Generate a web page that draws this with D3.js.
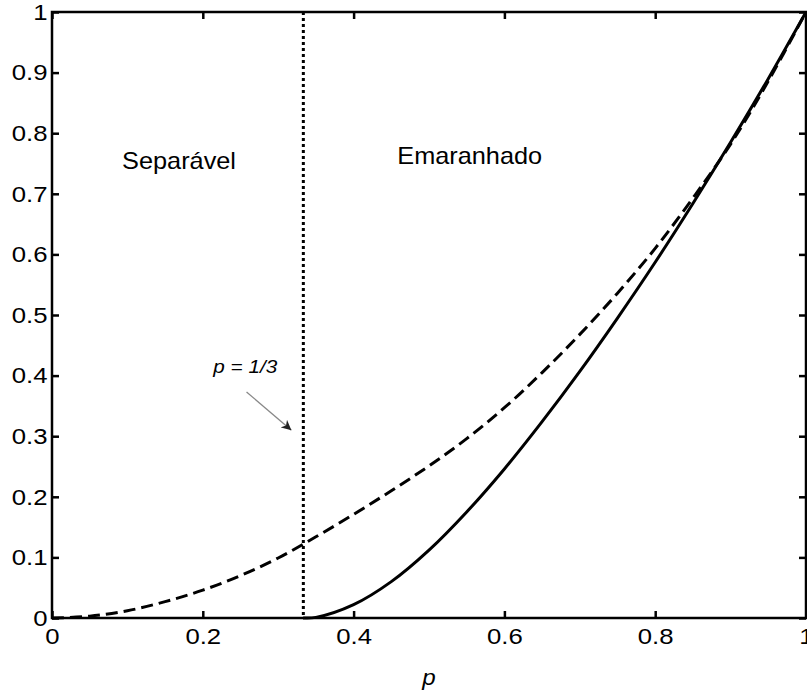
<!DOCTYPE html>
<html>
<head>
  <meta charset="utf-8">
  <title>Separável / Emaranhado</title>
  <style>
  body { margin: 0; background: #fff; overflow: hidden; }
  text { font-family: "Liberation Sans", Arial, sans-serif; fill: #000; }
  .tick line { stroke: #000; stroke-width: 2.5px; }
  .frame { fill: none; stroke: #000; stroke-width: 2.5px; }
  .line { fill: none; stroke: #000; stroke-width: 3px; }
  </style>
</head>
<body>
  <div id="chart"></div>
  <script src="https://cdn.jsdelivr.net/npm/d3@7"></script>
  <script>
  // values
  var pDashed = [0, 0.05, 0.1, 0.15, 0.2, 0.25, 0.3, 0.35, 0.4, 0.45, 0.5, 0.55, 0.6, 0.65, 0.7, 0.75, 0.8, 0.85, 0.9, 0.95, 1];
  var dashedVals = [0, 0.003, 0.012, 0.027, 0.046, 0.070, 0.099, 0.134, 0.171, 0.210, 0.251, 0.296, 0.347, 0.405, 0.468, 0.536, 0.610, 0.693, 0.782, 0.886, 1];
  var pSolid = [0.333, 0.35, 0.4, 0.45, 0.5, 0.55, 0.6, 0.65, 0.7, 0.75, 0.8, 0.85, 0.9, 0.95, 1];
  var solidVals = [0, 0.001, 0.022, 0.060, 0.112, 0.175, 0.246, 0.324, 0.407, 0.495, 0.587, 0.684, 0.785, 0.890, 1];
  var threshold = 1 / 3;

  var xTicks = [0, 0.2, 0.4, 0.6, 0.8, 1];
  var xTickLabels = ["0", "0.2", "0.4", "0.6", "0.8", "1"];
  var yTicks = [0, 0.1, 0.2, 0.3, 0.4, 0.5, 0.6, 0.7, 0.8, 0.9, 1];
  var yTickLabels = ["0", "0.1", "0.2", "0.3", "0.4", "0.5", "0.6", "0.7", "0.8", "0.9", "1"];

  // annotations in data units
  var regionLabels = [
    {text: "Separável", p: 0.093, v: 0.741},
    {text: "Emaranhado", p: 0.458, v: 0.750}
  ];
  var arrowNote = {text: "p = 1/3", p: 0.214, v: 0.404, from: [0.258, 0.373], to: [0.3175, 0.310]};

  var W = 807, H = 698;
  var mLeft = 52, mTop = 12, mRight = 806, mBottom = 618;
  var stretch = 1.1; // glyphs in the picture are a bit wide

  var x = d3.scaleLinear().domain([0, 1]).range([mLeft, mRight]);
  var y = d3.scaleLinear().domain([0, 1]).range([mBottom, mTop]);

  var svg = d3.select("#chart").append("svg")
    .attr("width", W)
    .attr("height", H);

  svg.append("defs").append("marker")
    .attr("id", "head")
    .attr("viewBox", "0 0 10 10")
    .attr("refX", 10).attr("refY", 5)
    .attr("markerWidth", 10).attr("markerHeight", 10)
    .attr("markerUnits", "userSpaceOnUse")
    .attr("orient", "auto")
    .append("path")
    .attr("d", "M0,0 L10,5 L0,10 L3,5 Z")
    .attr("fill", "#222");

  var line = d3.line()
    .x(function(d) { return x(d[0]); })
    .y(function(d) { return y(d[1]); })
    .curve(d3.curveCatmullRom.alpha(0.5));

  //threshold line p = 1/3
  svg.append("line")
    .attr("x1", x(threshold)).attr("x2", x(threshold))
    .attr("y1", y(1)).attr("y2", y(0))
    .attr("stroke", "#000")
    .attr("stroke-width", 3)
    .attr("stroke-dasharray", "3,3");

  //dashed curve
  svg.append("path")
    .datum(d3.zip(pDashed, dashedVals))
    .attr("class", "line")
    .attr("stroke-dasharray", "12,6")
    .attr("d", line);

  //solid curve
  svg.append("path")
    .datum(d3.zip(pSolid, solidVals))
    .attr("class", "line")
    .attr("d", line);

  //axes, ticks pointing in
  svg.append("g")
    .attr("transform", "translate(0," + mBottom + ")")
    .call(d3.axisBottom(x).tickValues(xTicks)
      .tickFormat(function(d, i) { return xTickLabels[i]; })
      .tickSizeInner(-7).tickSizeOuter(0).tickPadding(10));

  svg.append("g")
    .attr("transform", "translate(" + mLeft + ",0)")
    .call(d3.axisLeft(y).tickValues(yTicks)
      .tickFormat(function(d, i) { return yTickLabels[i]; })
      .tickSizeInner(-7).tickSizeOuter(0).tickPadding(4));

  svg.append("g")
    .attr("transform", "translate(0," + mTop + ")")
    .call(d3.axisTop(x).tickValues(xTicks).tickFormat("").tickSizeInner(-7).tickSizeOuter(0));

  svg.append("g")
    .attr("transform", "translate(" + mRight + ",0)")
    .call(d3.axisRight(y).tickValues(yTicks).tickFormat("").tickSizeInner(-7).tickSizeOuter(0));

  svg.selectAll(".domain").remove();
  svg.selectAll(".tick text")
    .attr("font-size", 23)
    .attr("font-family", "Liberation Sans, Arial, sans-serif")
    .attr("transform", "scale(1.12,1)");

  svg.append("rect")
    .attr("class", "frame")
    .attr("x", mLeft).attr("y", mTop)
    .attr("width", mRight - mLeft).attr("height", mBottom - mTop);

  //axis title
  svg.append("text")
    .attr("transform", "translate(" + x(0.5) + "," + 685 + ") scale(" + stretch + ",1)")
    .attr("text-anchor", "middle")
    .attr("font-size", 22)
    .attr("font-style", "italic")
    .text("p");

  //region labels
  svg.selectAll(".region")
    .data(regionLabels)
    .enter().append("text")
    .attr("class", "region")
    .attr("transform", function(d) { return "translate(" + x(d.p) + "," + y(d.v) + ") scale(" + stretch + ",1)"; })
    .attr("font-size", 23)
    .text(function(d) { return d.text; });

  //arrow note
  svg.append("text")
    .attr("transform", "translate(" + x(arrowNote.p) + "," + y(arrowNote.v) + ") scale(1.15,1)")
    .attr("font-size", 18)
    .attr("font-style", "italic")
    .text(arrowNote.text);

  svg.append("line")
    .attr("x1", x(arrowNote.from[0])).attr("y1", y(arrowNote.from[1]))
    .attr("x2", x(arrowNote.to[0])).attr("y2", y(arrowNote.to[1]))
    .attr("stroke", "#888")
    .attr("stroke-width", 1.3)
    .attr("marker-end", "url(#head)");
  </script>
</body>
</html>
